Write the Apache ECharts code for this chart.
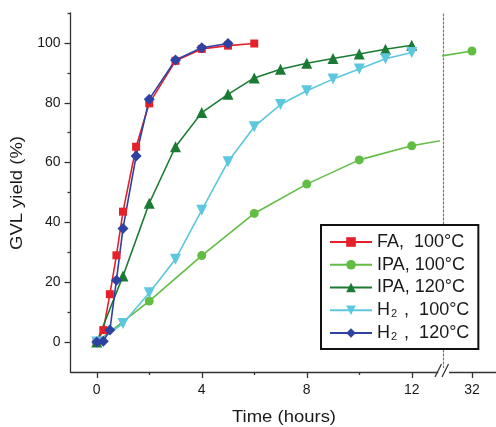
<!DOCTYPE html>
<html><head><meta charset="utf-8">
<script src="https://cdn.jsdelivr.net/npm/echarts@6/dist/echarts.min.js"></script>
<style>html,body{margin:0;padding:0;background:#fff}#c{width:496px;height:427px}</style>
</head><body><div id="c"></div>
<script>
// ---- data ----
const seriesNames = ['FA,  100°C', 'IPA, 100°C', 'IPA, 120°C', 'H2,  100°C', 'H2,  120°C'];
const faTime   = [0, 0.25, 0.5, 0.75, 1, 1.5, 2, 3, 4, 5, 6];
const faYield  = [0, 4, 16, 29, 43.6, 65.3, 79.8, 94, 98, 99.1, 99.8];
const ipa100Time  = [0, 2, 4, 6, 8, 10, 12, 32];
const ipa100Yield = [0, 13.7, 28.9, 43, 52.8, 60.9, 65.6, 97.3];
const ipa120Time  = [0, 1, 2, 3, 4, 5, 6, 7, 8, 9, 10, 11, 12];
const ipa120Yield = [0, 22.1, 46.4, 65.3, 76.7, 82.8, 88.3, 91.2, 93.2, 94.8, 96.3, 97.9, 99.2];
const h2100Time  = [0, 1, 2, 3, 4, 5, 6, 7, 8, 9, 10, 11, 12];
const h2100Yield = [0, 6.2, 16.5, 27.7, 44.1, 60.3, 72, 79.4, 84, 87.9, 91.3, 94.7, 96.8];
const h2120Time  = [0, 0.25, 0.5, 0.75, 1, 1.5, 2, 3, 4, 5];
const h2120Yield = [0, 0.3, 4, 20.7, 38, 62.2, 81.2, 94.3, 98.4, 99.8];
const yTickLabels = [0, 20, 40, 60, 80, 100];
const yMinorTicks = [10, 30, 50, 70, 90, 110];
const xTickLabels = [0, 4, 8, 12];
const xMinorTicks = [2, 6, 10];
const xBreakTicks = [32];

const pair = (t, v) => t.map((x, i) => [x, v[i]]);
const FONT = '"Liberation Sans", Arial, sans-serif';
const TXT = '#1a1a1a';
const AX = '#333';

const chart = echarts.init(document.getElementById('c'));
const lineSeries = (name, data, color, symbol, size, extra) => Object.assign({
  name, type: 'line', data, xAxisIndex: 0, yAxisIndex: 0, clip: true,
  symbol, symbolSize: size, showSymbol: true,
  lineStyle: { color, width: 1.6 }, itemStyle: { color },
  animation: false
}, extra || {});

const colors = ['#e4202b', '#62bd45', '#1b7a33', '#5cc7dd', '#2e42a3'];

chart.setOption({
  animation: false,
  textStyle: { fontFamily: FONT },
  grid: [
    { left: 70.5, top: 13, width: 367.5, height: 359, containLabel: false },
    { left: 443, top: 13, width: 53, height: 359, containLabel: false }
  ],
  xAxis: [
    { gridIndex: 0, type: 'value', min: -1, max: 13, position: 'bottom',
      axisLine: { show: true, onZero: false, lineStyle: { color: AX, width: 1.3 } },
      axisTick: { show: true, customValues: xTickLabels, length: 6, lineStyle: { color: AX, width: 1.3 } },
      axisLabel: { show: true, customValues: xTickLabels, margin: 11, color: TXT, fontSize: 14, fontFamily: FONT },
      splitLine: { show: false } },
    { gridIndex: 0, type: 'value', min: -1, max: 13, position: 'bottom',
      axisLine: { show: false, onZero: false },
      axisTick: { show: true, customValues: xMinorTicks, length: 3, lineStyle: { color: AX, width: 1.3 } },
      axisLabel: { show: false }, splitLine: { show: false } },
    { gridIndex: 1, type: 'value', min: 31, max: 32.83, position: 'bottom',
      axisLine: { show: true, onZero: false, lineStyle: { color: AX, width: 1.3 } },
      axisTick: { show: true, customValues: xBreakTicks, length: 6, lineStyle: { color: AX, width: 1.3 } },
      axisLabel: { show: true, customValues: xBreakTicks, margin: 11, color: TXT, fontSize: 14, fontFamily: FONT },
      splitLine: { show: false } }
  ],
  yAxis: [
    { gridIndex: 0, type: 'value', min: -10, max: 110, position: 'left',
      axisLine: { show: true, onZero: false, lineStyle: { color: AX, width: 1.3 } },
      axisTick: { show: true, customValues: yTickLabels, length: 6, lineStyle: { color: AX, width: 1.3 } },
      axisLabel: { show: true, customValues: yTickLabels, margin: 10, color: TXT, fontSize: 14, fontFamily: FONT },
      splitLine: { show: false } },
    { gridIndex: 0, type: 'value', min: -10, max: 110, position: 'left',
      axisLine: { show: false, onZero: false },
      axisTick: { show: true, customValues: yMinorTicks, length: 3, lineStyle: { color: AX, width: 1.3 } },
      axisLabel: { show: false }, splitLine: { show: false } },
    { gridIndex: 1, type: 'value', min: -10, max: 110, position: 'left',
      axisLine: { show: true, onZero: false, lineStyle: { color: '#777', width: 1.2, type: [2, 2] } },
      axisTick: { show: false }, axisLabel: { show: false }, splitLine: { show: false } }
  ],
  legend: {
    data: seriesNames,
    orient: 'vertical', left: 321, top: 225,
    backgroundColor: '#fff', borderColor: '#111', borderWidth: 2,
    padding: [8, 9, 7, 8],
    itemWidth: 42, itemHeight: 12, itemGap: 4.75,
    textStyle: { fontFamily: FONT, fontSize: 18, color: TXT, lineHeight: 18,
      rich: {
        a: { fontFamily: FONT, fontSize: 18, color: TXT, lineHeight: 18 },
        s: { fontFamily: FONT, fontSize: 11, color: TXT, lineHeight: 6, verticalAlign: 'bottom', padding: [0, 2, 0, 1] }
      } },
    formatter: function (n) {
      if (n.indexOf('H2') === 0) return '{a|H}{s|2}{a|' + n.slice(2).replace(/^,/, ' ,') + '}';
      return n;
    }
  },
  graphic: [
    { type: 'text', x: 284, y: 417, scaleX: 1.12, style: { text: 'Time (hours)', fontFamily: FONT, fontSize: 16.5, fill: TXT, align: 'center', verticalAlign: 'middle' } },
    { type: 'text', x: 17, y: 193, rotation: Math.PI / 2, scaleX: 1.12, style: { text: 'GVL yield (%)', fontFamily: FONT, fontSize: 16.5, fill: TXT, align: 'center', verticalAlign: 'middle' } },
    { type: 'rect', shape: { x: 438.5, y: 368, width: 10.5, height: 8 }, style: { fill: '#fff' }, z: 100 },
    { type: 'line', shape: { x1: 435, y1: 377, x2: 441.5, y2: 364 }, style: { stroke: AX, lineWidth: 1.3 }, z: 101 },
    { type: 'line', shape: { x1: 442, y1: 377, x2: 448.5, y2: 364 }, style: { stroke: AX, lineWidth: 1.3 }, z: 101 }
  ],
  series: [
    lineSeries(seriesNames[0], pair(faTime, faYield), colors[0], 'rect', 8),
    lineSeries(seriesNames[1], pair(ipa100Time, ipa100Yield), colors[1], 'circle', 9),
    lineSeries(seriesNames[2], pair(ipa120Time, ipa120Yield), colors[2], 'triangle', 11),
    lineSeries(seriesNames[3], pair(h2100Time, h2100Yield), colors[3], 'triangle', 11, { symbolRotate: 180 }),
    lineSeries(seriesNames[4], pair(h2120Time, h2120Yield), colors[4], 'diamond', 11),
    lineSeries(seriesNames[1], pair(ipa100Time, ipa100Yield), colors[1], 'circle', 9, { xAxisIndex: 2, yAxisIndex: 2 })
  ]
});
</script></body></html>
